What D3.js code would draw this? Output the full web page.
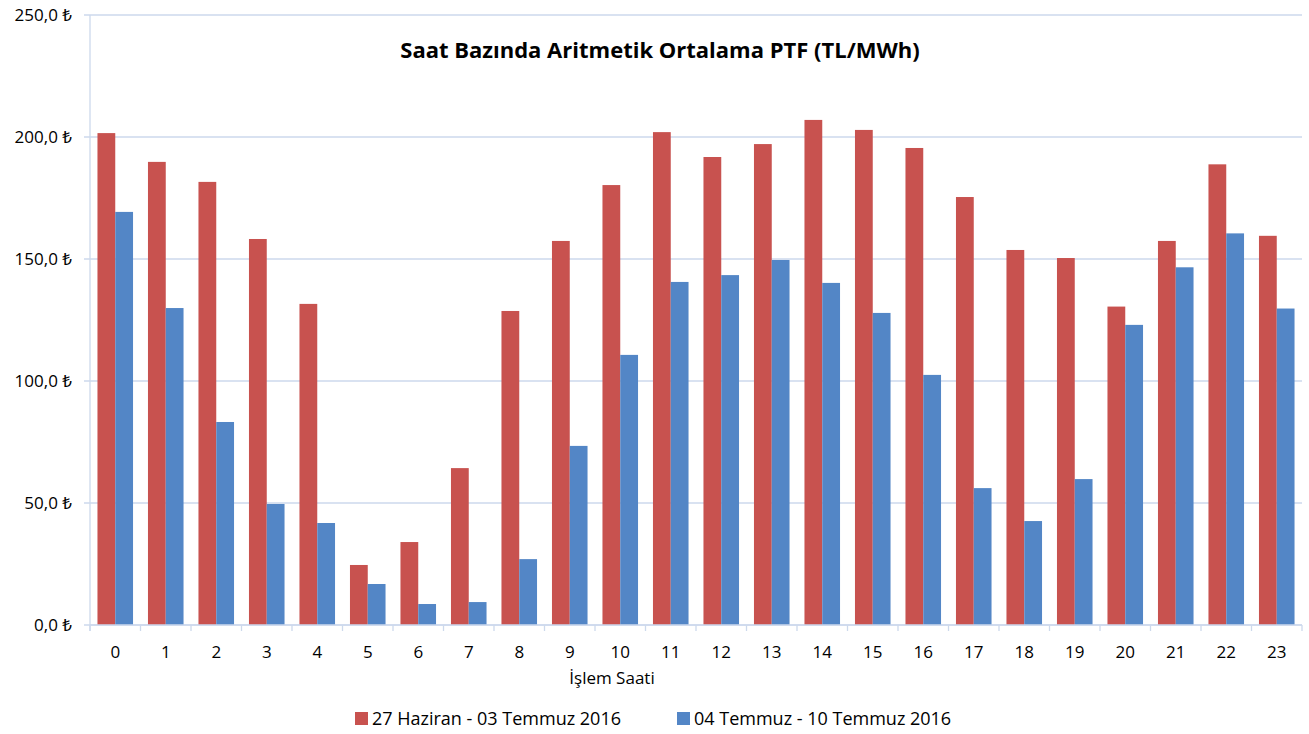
<!DOCTYPE html>
<html>
<head>
<meta charset="utf-8">
<script src="https://cdn.jsdelivr.net/npm/d3@7"></script>
<style>
  body { margin: 0; background: #fff; }
  text { font-family: "Open Sans", "Noto Sans", sans-serif; fill: #000; }
</style>
</head>
<body>
<script>
// hours 0..23
var hours = ['0','1','2','3','4','5','6','7','8','9','10','11','12','13','14','15','16','17','18','19','20','21','22','23']
var week1 = [201.6, 189.8, 181.6, 158.2, 131.6, 24.6, 34.0, 64.3, 128.7, 157.4, 180.3, 202.0, 191.8, 197.1, 207.0, 202.9, 195.5, 175.4, 153.7, 150.4, 130.5, 157.4, 188.8, 159.5]
var week2 = [169.3, 129.9, 83.2, 49.6, 41.8, 16.8, 8.6, 9.4, 27.0, 73.4, 110.7, 140.6, 143.4, 149.6, 140.2, 127.9, 102.5, 56.1, 42.6, 59.8, 123.0, 146.6, 160.5, 129.7]
var seriesNames = ['27 Haziran - 03 Temmuz 2016', '04 Temmuz - 10 Temmuz 2016']
var colors = ['#c8524f', '#5386c6']
var yTicks = [0, 50, 100, 150, 200, 250]

var W = 1309, H = 734
var margin = { top: 15, right: 7, bottom: 109, left: 90 },
    width = W - margin.left - margin.right,
    height = H - margin.top - margin.bottom

var svg = d3.select('body').append('svg')
    .attr('width', W)
    .attr('height', H)

var g = svg.append('g')
    .attr('transform', 'translate(' + margin.left + ',' + margin.top + ')')

var x = d3.scaleBand().domain(hours).range([0, width])
var x1 = d3.scaleBand().domain([0, 1]).range([0, x.bandwidth()]).paddingOuter(0.42).paddingInner(0)
var y = d3.scaleLinear().domain([0, 250]).range([height, 0])

var fmt = v => d3.format('.1f')(v).replace('.', ',') + ' ₺'

// grid lines
g.append('g')
    .selectAll('line')
    .data(yTicks)
    .join('line')
    .attr('x1', -6)
    .attr('x2', width)
    .attr('y1', d => y(d))
    .attr('y2', d => y(d))
    .attr('stroke', '#cdd9ec')
    .attr('stroke-width', 1.3)

// y labels
g.append('g')
    .selectAll('text')
    .data(yTicks)
    .join('text')
    .attr('x', -18)
    .attr('y', d => y(d))
    .attr('dy', '0.35em')
    .attr('text-anchor', 'end')
    .style('font-size', '17px')
    .text(fmt)

// bars
var data = hours.map((h, i) => ({ h: h, v: [week1[i], week2[i]] }))
var groups = g.append('g')
    .selectAll('g')
    .data(data)
    .join('g')
    .attr('transform', d => 'translate(' + x(d.h) + ',0)')

groups.selectAll('rect')
    .data(d => d.v.map((v, k) => ({ k: k, v: v })))
    .join('rect')
    .attr('x', d => x1(d.k))
    .attr('width', x1.bandwidth())
    .attr('y', d => y(d.v))
    .attr('height', d => height - y(d.v))
    .attr('fill', d => colors[d.k])

// axes lines
g.append('line')
    .attr('x1', 0).attr('x2', 0)
    .attr('y1', 0).attr('y2', height + 6)
    .attr('stroke', '#cdd9ec').attr('stroke-width', 1.3)
g.append('line')
    .attr('x1', 0).attr('x2', width)
    .attr('y1', height).attr('y2', height)
    .attr('stroke', '#cdd9ec').attr('stroke-width', 1.3)

// x ticks between categories
g.append('g')
    .selectAll('line')
    .data(d3.range(hours.length + 1))
    .join('line')
    .attr('x1', i => i * x.step())
    .attr('x2', i => i * x.step())
    .attr('y1', height)
    .attr('y2', height + 6)
    .attr('stroke', '#cdd9ec')
    .attr('stroke-width', 1.3)

// x labels
g.append('g')
    .selectAll('text')
    .data(hours)
    .join('text')
    .attr('x', d => x(d) + x.bandwidth() / 2)
    .attr('y', height + 33)
    .attr('text-anchor', 'middle')
    .style('font-size', '17px')
    .text(d => d)

// x title
svg.append('text')
    .attr('x', 612)
    .attr('y', 684)
    .attr('text-anchor', 'middle')
    .style('font-size', '17px')
    .text('İşlem Saati')

// chart title
svg.append('text')
    .attr('x', 660)
    .attr('y', 58)
    .attr('text-anchor', 'middle')
    .style('font-size', '22px')
    .style('font-weight', 'bold')
    .text('Saat Bazında Aritmetik Ortalama PTF (TL/MWh)')

// legend
var legX = [355, 677]
var leg = svg.append('g')
    .selectAll('g')
    .data(seriesNames)
    .join('g')
    .attr('transform', (d, i) => 'translate(' + legX[i] + ',712)')
leg.append('rect')
    .attr('width', 13).attr('height', 13)
    .attr('fill', (d, i) => colors[i])
leg.append('text')
    .attr('x', 17)
    .attr('y', 6.5)
    .attr('dy', '0.35em')
    .style('font-size', '18px')
    .text(d => d)
</script>
</body>
</html>
